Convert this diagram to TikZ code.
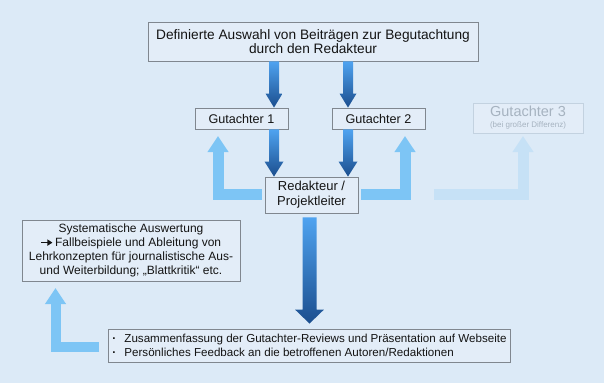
\documentclass[tikz,border=0pt]{standalone}
\usepackage{fontspec}
\setmainfont{Liberation Sans}
\usetikzlibrary{calc,arrows.meta}
\definecolor{bg}{HTML}{DCEAF7}
\definecolor{boxfill}{HTML}{E3EDF8}
\definecolor{boxline}{HTML}{80878F}
\definecolor{txt}{HTML}{141414}
\definecolor{dtop}{HTML}{4FA3F0}
\definecolor{dbot}{HTML}{1B4E8E}
\definecolor{lite}{HTML}{7DC5F5}
\definecolor{faded}{HTML}{C6E1F6}
\definecolor{fadedline}{HTML}{C3D2E0}
\definecolor{fadedtxt}{HTML}{A6B3C0}
\newcommand\dnarrow[5]{%
  \shade[top color=dtop, bottom color=dbot] let \p1=#1, \p2=#2 in
    (\x2-#3,\y1) -- (\x2+#3,\y1) -- (\x2+#3,\y2+#5) -- (\x2+#4,\y2+#5) --
    (\x2,\y2) -- (\x2-#4,\y2+#5) -- (\x2-#3,\y2+#5) -- cycle;}
\newcommand\txtarrow{\tikz[baseline=0pt]{\draw[txt, line width=1.3pt,
  -{Triangle[length=5pt,width=6pt]}] (0pt,4pt) -- (11pt,4pt);}}
\tikzset{
  box/.style={draw=boxline, line width=0.9pt, fill=boxfill, text=txt,
    inner sep=0pt, align=center},
  bigfont/.style={font=\fontsize{13}{15}\selectfont},
  larrow/.style={draw=lite, line width=11pt, line join=miter,
    -{Triangle[width=20pt,length=16pt]}},
  farrow/.style={larrow, draw=faded},
}
\begin{document}
\begin{tikzpicture}[x=1pt,y=-1pt]
\fill[bg] (0,0) rectangle (604,383);
\useasboundingbox (0,0) rectangle (604,383);

\node[box, font=\fontsize{13.7}{14.5}\selectfont, minimum width=330pt, minimum height=39pt] (top) at (313,41.5)
  {Definierte Auswahl von Beiträgen zur Begutachtung\\durch den Redakteur};
\node[box, font=\fontsize{12.6}{15}\selectfont, minimum width=93pt, minimum height=21pt] (g1) at (241.5,118.5) {Gutachter 1};
\node[box, font=\fontsize{12.6}{15}\selectfont, minimum width=93pt, minimum height=21pt] (g2) at (378.5,118.5) {Gutachter 2};
\node[box, draw=fadedline, text=fadedtxt, minimum width=110pt, minimum height=30pt] (g3) at (528,118)
  {{\fontsize{14.5}{13}\selectfont Gutachter 3}\\[-1pt]{\fontsize{8}{9}\selectfont (bei großer Differenz)}};
\node[box, bigfont, minimum width=93pt, minimum height=36pt] (red) at (311.5,195)
  {Redakteur /\\Projektleiter};
\node[box, font=\fontsize{12}{14}\selectfont, minimum width=218pt, minimum height=61pt] (sys) at (131,250.5)
  {Systematische Auswertung\\\txtarrow\,Fallbeispiele und Ableitung von\\Lehrkonzepten für journalistische Aus-\\und Weiterbildung; „Blattkritik“ etc.};
\node[box, align=left, font=\fontsize{11.6}{14}\selectfont, minimum width=402pt, minimum height=33pt] (bot) at (309.5,345.5)
  {\makebox[12pt][l]{\textbf{·}}Zusammenfassung der Gutachter-Reviews und Präsentation auf Webseite\\
   \makebox[12pt][l]{\textbf{·}}Persönliches Feedback an die betroffenen Autoren/Redaktionen};

\coordinate (c1) at (274,0);
\coordinate (c2) at (348,0);
\coordinate (tl) at (218,136);
\coordinate (tr) at (405,136);
\coordinate (tf) at (523,136);
\coordinate (tb) at (55.5,288);

% dark gradient arrows
\dnarrow{(top.south -| c1)}{(g1.north -| c1)}{5pt}{8.5pt}{14pt}
\dnarrow{(top.south -| c2)}{(g2.north -| c2)}{5pt}{8.5pt}{14pt}
\dnarrow{(g1.south -| c1)}{(red.north -| c1)}{5pt}{9.5pt}{15pt}
\dnarrow{(g2.south -| c2)}{(red.north -| c2)}{5pt}{9.5pt}{15pt}
\dnarrow{($(red.south -| bot.north)+(0,4)$)}{($(bot.north)+(0,-5)$)}{7pt}{14.5pt}{14pt}

% light L-shaped arrows
\draw[larrow] ($(red.west)+(-3,-1)$) -| (tl);
\draw[larrow] ($(red.east)+(3,-1)$) -| (tr);
\draw[farrow] ($(red.east)+(76,-1)$) -| (tf);
\draw[larrow, line width=10pt] ($(bot.west)+(-9,1.5)$) -| (tb);
\end{tikzpicture}
\end{document}
